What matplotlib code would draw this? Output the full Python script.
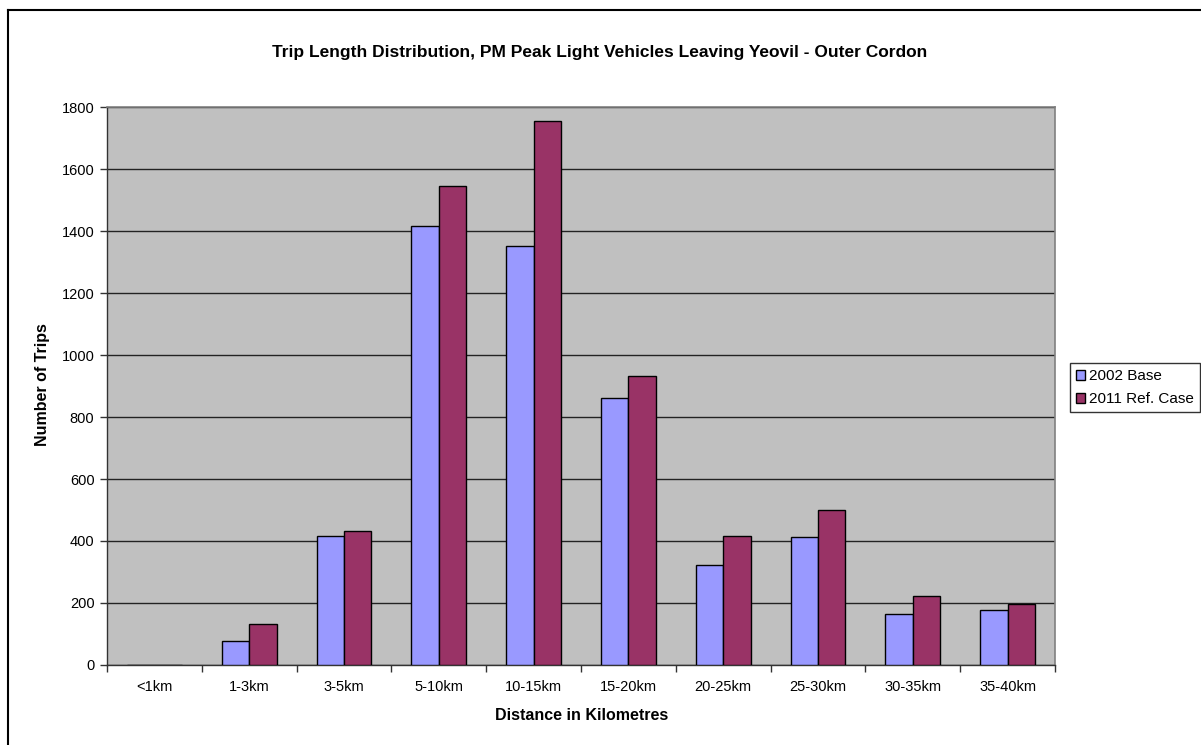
import matplotlib
matplotlib.use("Agg")
import matplotlib.pyplot as plt
from matplotlib.lines import Line2D
import numpy as np

plt.rcParams['font.family'] = ['Liberation Sans', 'DejaVu Sans']

categories = ["<1km", "1-3km", "3-5km", "5-10km", "10-15km", "15-20km",
              "20-25km", "25-30km", "30-35km", "35-40km"]
base_2002 = [0, 76, 417, 1416, 1352, 862, 322, 414, 164, 176]
ref_2011 = [0, 132, 431, 1544, 1754, 931, 417, 500, 224, 197]
yticks = [0, 200, 400, 600, 800, 1000, 1200, 1400, 1600, 1800]

W, H = 1201, 745
fig = plt.figure(figsize=(W / 100, H / 100), dpi=100)
fig.patch.set_facecolor("white")

# plot area in pixel coordinates
left, right, top, bottom = 107, 1055, 107, 665
ax = fig.add_axes([left / W, 1 - bottom / H, (right - left) / W, (bottom - top) / H])
ax.set_facecolor("#C0C0C0")

x = np.arange(len(categories))
bw = 0.288
ax.bar(x - bw / 2, base_2002, width=bw, color="#9999FF", edgecolor="black",
       linewidth=1.0, label="2002 Base", zorder=3)
ax.bar(x + bw / 2, ref_2011, width=bw, color="#993366", edgecolor="black",
       linewidth=1.0, label="2011 Ref. Case", zorder=3)

ax.set_xlim(-0.5, len(categories) - 0.5)
ax.set_ylim(0, 1800)
ax.set_yticks(yticks)
ax.set_yticklabels([str(v) for v in yticks], fontsize=10.5)
ax.yaxis.grid(True, color="#222222", linewidth=1.0, zorder=1)
ax.set_axisbelow(True)

# category labels centred, tick marks on the category boundaries
ax.set_xticks(x)
ax.set_xticklabels(categories, fontsize=10.5)
ax.tick_params(axis="x", which="major", length=0, pad=11)
ax.set_xticks(np.arange(-0.5, len(categories), 1.0), minor=True)
ax.tick_params(axis="x", which="minor", length=5, width=1, color="#333333", direction="out")
ax.tick_params(axis="y", length=5, width=1, color="#333333", direction="out", pad=4)

for s in ("top", "right"):
    ax.spines[s].set_color("#808080")
    ax.spines[s].set_linewidth(1.2)
for s in ("left", "bottom"):
    ax.spines[s].set_color("#333333")
    ax.spines[s].set_linewidth(1.0)

fig.text(42 / W, 1 - 385 / H, "Number of Trips", rotation=90, ha="center", va="center",
         fontsize=11.5, fontweight="bold")
fig.text(582 / W, 1 - 716 / H, "Distance in Kilometres", ha="center", va="center",
         fontsize=11.5, fontweight="bold")

fig.text(600 / W, 1 - 52 / H, "Trip Length Distribution, PM Peak Light Vehicles Leaving Yeovil - Outer Cordon",
         ha="center", va="center", fontsize=12.5, fontweight="bold")

leg = fig.legend(loc="upper left", bbox_to_anchor=(1070 / W, 1 - 363 / H),
                 fontsize=11, frameon=True, fancybox=False, handlelength=0.6,
                 handleheight=0.6, handletextpad=0.25, borderpad=0.4,
                 labelspacing=0.6, borderaxespad=0)
leg.get_frame().set_edgecolor("black")
leg.get_frame().set_linewidth(1.0)

# chart-area border (left and top edges)
fig.add_artist(Line2D([8 / W, 8 / W], [0, 1 - 10 / H], color="black", linewidth=1.5,
                      transform=fig.transFigure))
fig.add_artist(Line2D([8 / W, 1], [1 - 10 / H, 1 - 10 / H], color="black", linewidth=1.5,
                      transform=fig.transFigure))

fig.savefig("out.png", dpi=100)
